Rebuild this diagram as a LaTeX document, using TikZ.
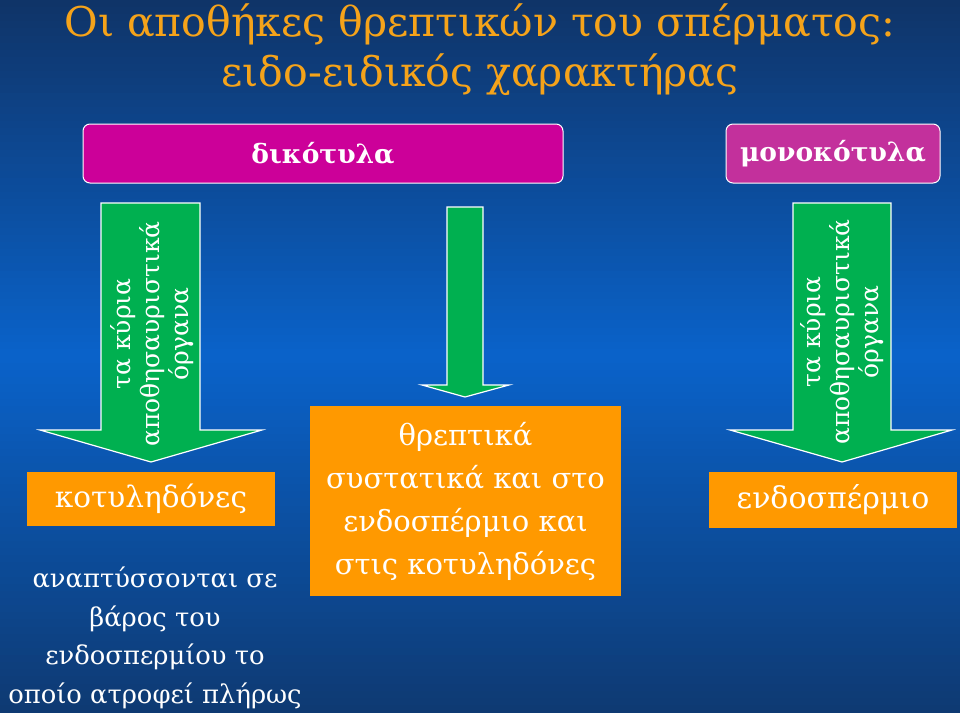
\documentclass[tikz,border=0pt]{standalone}
\usepackage{fontspec}
\setmainfont{DejaVu Serif}
\definecolor{bgtop}{HTML}{0F3468}
\definecolor{bgmid}{HTML}{0A62C9}
\definecolor{bgbot}{HTML}{0E3A73}
\definecolor{titleorange}{HTML}{F5A31A}
\definecolor{magbox}{HTML}{CC0099}
\definecolor{magbox2}{HTML}{C3309C}
\definecolor{greenarrow}{HTML}{00B050}
\definecolor{orangebox}{HTML}{FF9900}
\tikzset{
  titletext/.style={text=titleorange, font=\fontsize{41}{50}\selectfont, inner sep=0pt},
  magentabox/.style={draw=white, line width=1pt, rounded corners=7pt, text=white, font=\bfseries\fontsize{26.5}{32}\selectfont},
  arrowshape/.style={draw=white, line width=1.2pt, fill=greenarrow, line join=miter},
  arrowtext/.style={rotate=90, align=center, text=white, font=\fontsize{25}{29}\selectfont, inner sep=0pt},
  orangefill/.style={fill=orangebox, text=white, align=center, inner sep=0pt},
  plaintext/.style={text=white, align=center, inner sep=0pt}
}
\begin{document}
\begin{tikzpicture}[x=1pt,y=-1pt]
% background gradient as strips
\foreach \i in {0,...,49} {
  \pgfmathtruncatemacro{\p}{round(\i*2.04)}
  \colorlet{stripc}{bgmid!\p!bgtop}
  \fill[stripc] (0,{\i*7.12}) rectangle (960,{(\i+1)*7.12+0.6});
}
\foreach \i in {50,...,99} {
  \pgfmathtruncatemacro{\p}{round((99-\i)*2.04)}
  \colorlet{stripc}{bgmid!\p!bgbot}
  \fill[stripc] (0,{\i*7.12}) rectangle (960,{(\i+1)*7.12+0.6});
}
\useasboundingbox (0,0) rectangle (960,712);

% title
\node[titletext] (t1) at (480,24) {Οι αποθήκες θρεπτικών του σπέρματος:};
\node[titletext] (t2) at (480,75) {ειδο-ειδικός χαρακτήρας};

% headers
\node[magentabox, fill=magbox, minimum width=480pt, minimum height=59pt] (dik) at (323,153.5) {δικότυλα};
\node[magentabox, fill=magbox2, minimum width=214pt, minimum height=59pt] (mono) at (833,153.5) {μονοκότυλα};

% left arrow
\draw[arrowshape] (101,203) -- (200,203) -- (200,430) -- (262,430) -- (151,462) -- (40,430) -- (101,430) -- cycle;
\node[arrowtext] (la) at (152,334) {τα κύρια\\αποθησαυριστικά\\όργανα};

% middle arrow
\draw[arrowshape] (447,207) -- (483,207) -- (483,385) -- (509,385) -- (465,397) -- (422,385) -- (447,385) -- cycle;

% right arrow
\draw[arrowshape] (793,203) -- (891,203) -- (891,430) -- (952,430) -- (842,462) -- (730,430) -- (793,430) -- cycle;
\node[arrowtext] (ra) at (842,332) {τα κύρια\\αποθησαυριστικά\\όργανα};

% orange boxes
\node[orangefill, minimum width=248pt, minimum height=54pt, font=\fontsize{29.5}{34}\selectfont] (kot) at (151,499) {κοτυληδόνες};
\node[orangefill, minimum width=311pt, minimum height=190pt, font=\fontsize{29}{43}\selectfont] (mid) at (465.5,501) {θρεπτικά\\συστατικά και στο\\ενδοσπέρμιο και\\στις κοτυληδόνες};
\node[orangefill, minimum width=248pt, minimum height=56pt, font=\fontsize{30}{34}\selectfont] (endo) at (833,500) {ενδοσπέρμιο};

% bottom-left text
\node[plaintext, font=\fontsize{25.8}{38.5}\selectfont] (dev) at (155,638) {αναπτύσσονται σε\\βάρος του\\ενδοσπερμίου το\\οποίο ατροφεί πλήρως};
\end{tikzpicture}
\end{document}
